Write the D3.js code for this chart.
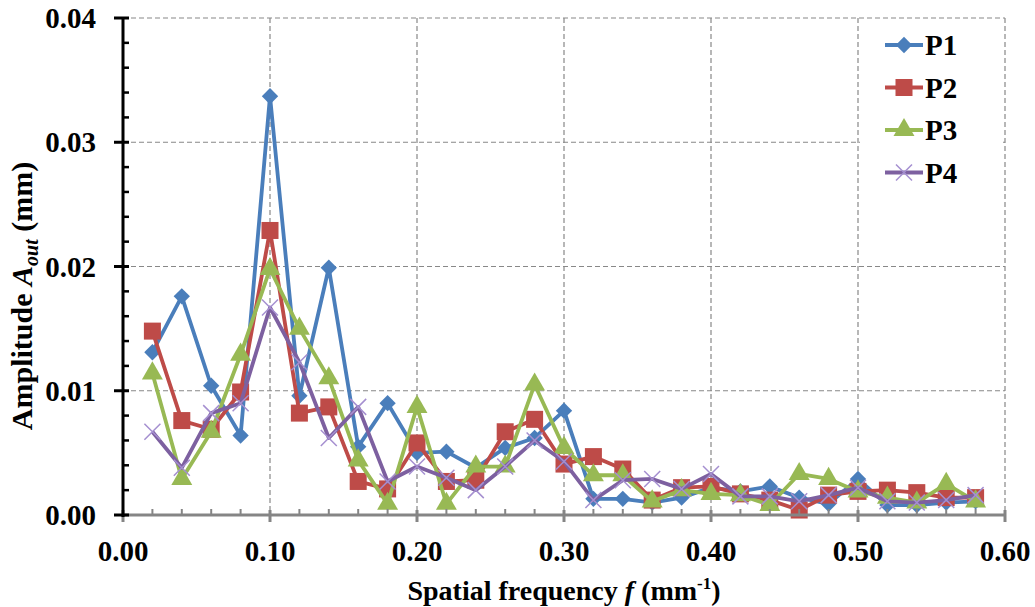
<!DOCTYPE html>
<html>
<head>
<meta charset="utf-8">
<script src="https://cdn.jsdelivr.net/npm/d3@7"></script>
<style>
  html, body { margin: 0; padding: 0; background: #fff; }
  svg { display: block; }
  text { font-family: "Liberation Serif", "Times New Roman", serif; font-weight: bold; fill: #000; }
</style>
</head>
<body>
<svg id="chart" width="1035" height="607"></svg>
<script>
// Spatial frequency samples (mm^-1)
const freq = [0.02, 0.04, 0.06, 0.08, 0.10, 0.12, 0.14, 0.16, 0.18, 0.20,
              0.22, 0.24, 0.26, 0.28, 0.30, 0.32, 0.34, 0.36, 0.38, 0.40,
              0.42, 0.44, 0.46, 0.48, 0.50, 0.52, 0.54, 0.56, 0.58];

// Output amplitude (mm) for each measurement point
const p1 = [0.0131, 0.0176, 0.0104, 0.0064, 0.0337, 0.0096, 0.0199, 0.0055, 0.0090, 0.0050,
            0.0051, 0.0038, 0.0054, 0.0062, 0.0084, 0.0013, 0.0013, 0.0010, 0.0014, 0.0022,
            0.0019, 0.0023, 0.0014, 0.0009, 0.0029, 0.0008, 0.0008, 0.0010, 0.0011];
const p2 = [0.0148, 0.0076, 0.0069, 0.0099, 0.0229, 0.0082, 0.0087, 0.0027, 0.0021, 0.0058,
            0.0027, 0.0028, 0.0067, 0.0077, 0.0041, 0.0047, 0.0037, 0.0012, 0.0022, 0.0023,
            0.0017, 0.0012, 0.0004, 0.0016, 0.0019, 0.0020, 0.0018, 0.0014, 0.0014];
const p3 = [0.0114, 0.0029, 0.0067, 0.0129, 0.0198, 0.0150, 0.0110, 0.0044, 0.0009, 0.0087,
            0.0009, 0.0039, 0.0039, 0.0105, 0.0054, 0.0032, 0.0032, 0.0011, 0.0020, 0.0017,
            0.0016, 0.0008, 0.0033, 0.0029, 0.0019, 0.0014, 0.0010, 0.0025, 0.0011];
const p4 = [0.0067, 0.0038, 0.0082, 0.0090, 0.0167, 0.0123, 0.0062, 0.0087, 0.0027, 0.0039,
            0.0030, 0.0020, 0.0039, 0.0060, 0.0043, 0.0012, 0.0028, 0.0029, 0.0021, 0.0033,
            0.0015, 0.0015, 0.0011, 0.0016, 0.0022, 0.0011, 0.0010, 0.0012, 0.0016];

const seriesNames = ["P1", "P2", "P3", "P4"];
const seriesValues = [p1, p2, p3, p4];

const xTicks = [0.00, 0.10, 0.20, 0.30, 0.40, 0.50, 0.60];
const yTicks = [0.00, 0.01, 0.02, 0.03, 0.04];

const styles = [
  { color: "#4a7ebb", marker: "diamond" },
  { color: "#be4b48", marker: "square" },
  { color: "#98b954", marker: "triangle" },
  { color: "#7d60a0", marker: "cross" }
];

const svg = d3.select("#chart");
const plotL = 123, plotR = 1005, plotT = 18, plotB = 515;

const x = d3.scaleLinear().domain([0, 0.6]).range([plotL, plotR]);
const y = d3.scaleLinear().domain([0, 0.04]).range([plotB, plotT]);

// Dashed grid
const grid = svg.append("g");
grid.selectAll("line.gx").data(xTicks.slice(1)).join("line")
  .attr("x1", d => x(d)).attr("x2", d => x(d))
  .attr("y1", plotT).attr("y2", plotB)
  .attr("stroke", "#888").attr("stroke-width", 1.2).attr("stroke-dasharray", "5,3");
grid.selectAll("line.gy").data(yTicks.slice(1)).join("line")
  .attr("x1", plotL).attr("x2", plotR)
  .attr("y1", d => y(d)).attr("y2", d => y(d))
  .attr("stroke", "#888").attr("stroke-width", 1.2).attr("stroke-dasharray", "5,3");

// Series lines and markers
const line = d3.line().x((d, i) => x(freq[i])).y(d => y(d));

function drawMarker(g, kind, color, cx, cy) {
  if (kind === "diamond") {
    g.append("path").attr("d", d3.symbol(d3.symbolDiamond2, 170)())
      .attr("transform", `translate(${cx},${cy})`).attr("fill", color);
  } else if (kind === "square") {
    g.append("rect").attr("x", cx - 8.5).attr("y", cy - 8.5).attr("width", 17).attr("height", 17)
      .attr("fill", color);
  } else if (kind === "triangle") {
    g.append("path").attr("d", d3.symbol(d3.symbolTriangle, 190)())
      .attr("transform", `translate(${cx},${cy})`).attr("fill", color);
  } else {
    g.append("path").attr("d", `M${cx - 8},${cy - 8}L${cx + 8},${cy + 8}M${cx - 8},${cy + 8}L${cx + 8},${cy - 8}`)
      .attr("stroke", "#a58fd0").attr("stroke-width", 1.5).attr("fill", "none");
  }
}

seriesValues.forEach((vals, s) => {
  const g = svg.append("g");
  g.append("path").datum(vals).attr("d", line)
    .attr("fill", "none").attr("stroke", styles[s].color)
    .attr("stroke-width", 3.8).attr("stroke-linejoin", "round");
  vals.forEach((v, i) => drawMarker(g, styles[s].marker, styles[s].color, x(freq[i]), y(v)));
});

// X axis (gray)
const xa = svg.append("g");
xa.append("line").attr("x1", plotL).attr("x2", plotR + 1).attr("y1", plotB).attr("y2", plotB)
  .attr("stroke", "#858585").attr("stroke-width", 3);
const xMinor = d3.range(0.02, 0.6, 0.02).filter(v => Math.abs(v * 10 - Math.round(v * 10)) > 1e-6);
xa.selectAll("line.mi").data(xMinor).join("line")
  .attr("x1", d => x(d)).attr("x2", d => x(d)).attr("y1", plotB - 6).attr("y2", plotB)
  .attr("stroke", "#858585").attr("stroke-width", 2);
xa.selectAll("line.ma").data(xTicks).join("line")
  .attr("x1", d => x(d)).attr("x2", d => x(d)).attr("y1", plotB - 5).attr("y2", plotB + 7)
  .attr("stroke", "#858585").attr("stroke-width", 3);
xa.selectAll("text").data(xTicks).join("text")
  .attr("x", d => x(d)).attr("y", plotB + 46).attr("text-anchor", "middle")
  .attr("font-size", 29).text(d => d.toFixed(2));

// Y axis (black)
const ya = svg.append("g");
ya.append("line").attr("x1", plotL).attr("x2", plotL).attr("y1", plotT - 1).attr("y2", plotB + 2)
  .attr("stroke", "#000").attr("stroke-width", 3);
const yMinor = d3.range(0.002, 0.04, 0.002).filter(v => Math.abs(v * 100 - Math.round(v * 100)) > 1e-6);
ya.selectAll("line.mi").data(yMinor).join("line")
  .attr("x1", plotL).attr("x2", plotL + 6).attr("y1", d => y(d)).attr("y2", d => y(d))
  .attr("stroke", "#000").attr("stroke-width", 2.5);
ya.selectAll("line.ma").data(yTicks).join("line")
  .attr("x1", plotL - 9).attr("x2", plotL + 6).attr("y1", d => y(d)).attr("y2", d => y(d))
  .attr("stroke", "#000").attr("stroke-width", 3);
ya.selectAll("text").data(yTicks).join("text")
  .attr("x", 96).attr("y", d => y(d) + 10).attr("text-anchor", "end")
  .attr("font-size", 29).text(d => d.toFixed(2));

// Axis titles
const xt = svg.append("text").attr("x", 564).attr("y", 600).attr("text-anchor", "middle").attr("font-size", 28);
xt.append("tspan").text("Spatial frequency ");
xt.append("tspan").attr("font-style", "italic").text("f");
xt.append("tspan").text(" (mm");
xt.append("tspan").attr("font-size", 17).attr("dy", -11).text("-1");
xt.append("tspan").attr("dy", 11).text(")");

const yt = svg.append("text").attr("transform", "translate(32,296) rotate(-90)")
  .attr("text-anchor", "middle").attr("font-size", 30);
yt.append("tspan").text("Amplitude ");
yt.append("tspan").attr("font-style", "italic").text("A");
yt.append("tspan").attr("font-style", "italic").attr("font-size", 20).attr("dy", 6).text("out");
yt.append("tspan").attr("dy", -6).text(" (mm)");

// Legend
const lg = svg.append("g");
lg.append("rect").attr("x", 860).attr("y", 22).attr("width", 142).attr("height", 175).attr("fill", "#fff");
seriesNames.forEach((name, i) => {
  const ly = 45 + i * 42.5;
  lg.append("line").attr("x1", 885).attr("x2", 923).attr("y1", ly).attr("y2", ly)
    .attr("stroke", styles[i].color).attr("stroke-width", 3.8);
  drawMarker(lg, styles[i].marker, styles[i].color, 904, ly);
  lg.append("text").attr("x", 925).attr("y", ly + 10).attr("font-size", 29).text(name);
});
</script>
</body>
</html>
